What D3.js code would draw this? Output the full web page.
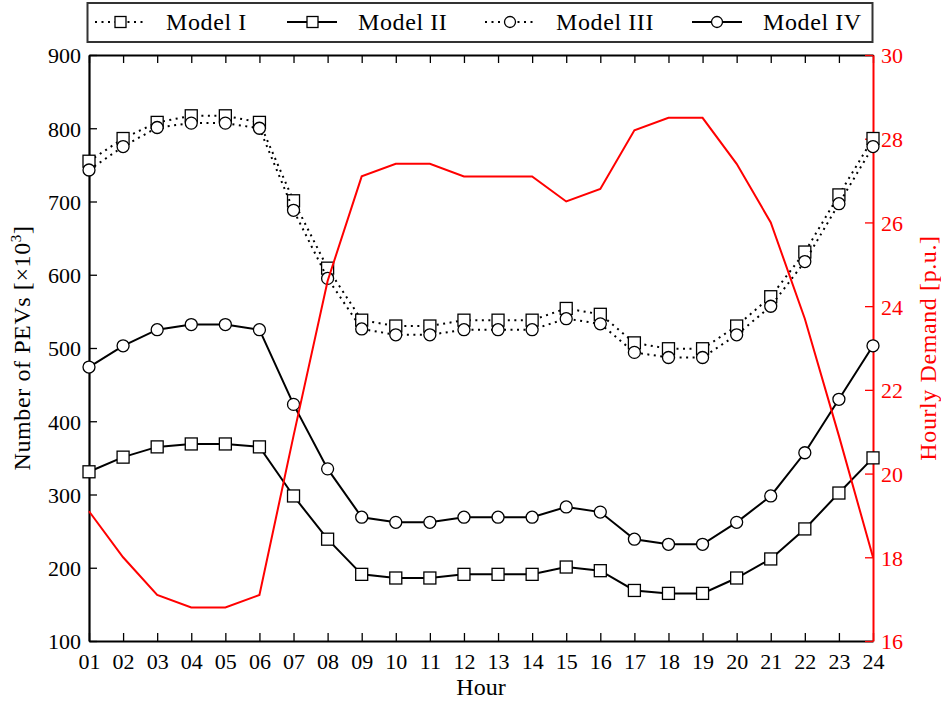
<!DOCTYPE html>
<html>
<head>
<meta charset="utf-8">
<script src="https://cdn.jsdelivr.net/npm/d3@7"></script>
<style>
    body { margin: 0; background: #fff; }
    #chart { width: 941px; height: 702px; }
    svg text { font-family: "Liberation Serif", "DejaVu Serif", serif; }
</style>
</head>
<body>
<div id="chart"></div>
<script>
// hourly PEV numbers for the four models + hourly demand (right axis)

let hours = ["01","02","03","04","05","06","07","08","09","10","11","12",
             "13","14","15","16","17","18","19","20","21","22","23","24"];

let modelI   = [755, 786, 808, 817, 817, 808, 701, 609, 538, 530, 530, 538, 538, 538, 554, 546, 507, 499, 499, 530, 570, 631, 709, 786];
let modelII  = [331, 351, 365, 369, 369, 365, 298, 239, 191, 186, 186, 191, 191, 191, 201, 196, 169, 165, 165, 186, 212, 253, 302, 350];
let modelIII = [743, 775, 801, 807, 807, 800, 688, 595, 526, 518, 518, 525, 525, 525, 540, 533, 494, 487, 487, 518, 557, 618, 697, 775];
let modelIV  = [474, 503, 525, 532, 532, 525, 423, 335, 269, 262, 262, 269, 269, 269, 283, 276, 239, 232, 232, 262, 298, 357, 430, 503];
let demand   = [19.1, 18.0, 17.1, 16.8, 16.8, 17.1, 20.9, 24.6, 27.1, 27.4, 27.4, 27.1, 27.1, 27.1, 26.5, 26.8, 28.2, 28.5, 28.5, 27.4, 26.0, 23.7, 20.9, 18.0];

let leftTicks  = [100, 200, 300, 400, 500, 600, 700, 800, 900];
let rightTicks = [16, 18, 20, 22, 24, 26, 28, 30];

let seriesNames = ["Model I", "Model II", "Model III", "Model IV"];
let seriesData  = [modelI, modelII, modelIII, modelIV];
let seriesMarker = ["square", "square", "circle", "circle"];
let seriesDotted = [true, false, true, false];

const FONT = "'Liberation Serif', 'DejaVu Serif', serif";

class PevChart {

    constructor(parentElement) {
        this.parentElement = parentElement;
        this.initVis();
    }

    initVis() {
        let vis = this;

        vis.margin = {top: 55, right: 68, bottom: 61, left: 89};
        vis.width = 941 - vis.margin.left - vis.margin.right;
        vis.height = 702 - vis.margin.top - vis.margin.bottom;

        vis.root = d3.select("#" + vis.parentElement).append("svg")
            .attr("width", 941)
            .attr("height", 702)
            .attr("font-family", FONT);

        vis.svg = vis.root.append("g")
            .attr("transform", "translate(" + vis.margin.left + "," + vis.margin.top + ")");

        // scales
        vis.x = d3.scalePoint()
            .domain(hours)
            .range([0, vis.width]);

        vis.y = d3.scaleLinear()
            .domain([100, 900])
            .range([vis.height, 0]);

        vis.y2 = d3.scaleLinear()
            .domain([16, 30])
            .range([vis.height, 0]);

        vis.wrangleData();
    }

    wrangleData() {
        let vis = this;

        vis.displayData = seriesNames.map((name, i) => ({
            name: name,
            marker: seriesMarker[i],
            dotted: seriesDotted[i],
            values: seriesData[i].map((v, j) => ({hour: hours[j], value: v}))
        }));

        vis.demandData = demand.map((v, j) => ({hour: hours[j], value: v}));

        vis.updateVis();
    }

    updateVis() {
        let vis = this;
        let fs = 22;   // tick labels
        let ls = 24;   // labels + legend (CM letters run wider)

        // axes, ticks pointing inward
        let xAxis = d3.axisBottom(vis.x).tickSizeInner(-8).tickSizeOuter(0).tickPadding(12);
        let xTop = d3.axisTop(vis.x).tickSizeInner(-8).tickSizeOuter(0).tickFormat("");
        let yAxis = d3.axisLeft(vis.y).tickValues(leftTicks).tickSizeInner(-8).tickSizeOuter(0).tickPadding(8);
        let yAxis2 = d3.axisRight(vis.y2).tickValues(rightTicks).tickSizeInner(-8).tickSizeOuter(0).tickPadding(8);

        let gx = vis.svg.append("g")
            .attr("class", "x-axis axis")
            .attr("transform", "translate(0," + vis.height + ")")
            .call(xAxis);

        let gxTop = vis.svg.append("g")
            .attr("class", "x-top axis")
            .call(xTop);

        let gy = vis.svg.append("g")
            .attr("class", "y-axis axis")
            .call(yAxis);

        let gy2 = vis.svg.append("g")
            .attr("class", "y2-axis axis")
            .attr("transform", "translate(" + vis.width + ",0)")
            .call(yAxis2);

        [gx, gxTop, gy, gy2].forEach(g => g.attr("font-family", FONT).attr("font-size", fs));

        [gx, gxTop, gy].forEach(g => {
            g.selectAll("line").attr("stroke", "#000").attr("stroke-width", 1.3);
            g.select(".domain").attr("stroke", "#000").attr("stroke-width", 2.2);
            g.selectAll("text").attr("fill", "#000");
        });
        gy2.selectAll("line").attr("stroke", "#ff0000").attr("stroke-width", 1.3);
        gy2.select(".domain").attr("stroke", "#ff0000").attr("stroke-width", 2);
        gy2.selectAll("text").attr("fill", "#ff0000");
        gy.selectAll("text").attr("dy", "0.36em");
        gy2.selectAll("text").attr("dy", "0.36em");

        // lines for the models
        let line = d3.line()
            .x(d => vis.x(d.hour))
            .y(d => vis.y(d.value));

        let series = vis.svg.selectAll(".series")
            .data(vis.displayData)
            .enter().append("g")
            .attr("class", "series");

        series.append("path")
            .attr("d", d => line(d.values))
            .attr("fill", "none")
            .attr("stroke", "#000")
            .attr("stroke-width", 2)
            .attr("stroke-dasharray", d => d.dotted ? "2,4.5" : null);

        series.each(function(s) {
            let g = d3.select(this);
            if (s.marker === "square") {
                g.selectAll("rect")
                    .data(s.values)
                    .enter().append("rect")
                    .attr("x", d => vis.x(d.hour) - 6)
                    .attr("y", d => vis.y(d.value) - 6)
                    .attr("width", 12)
                    .attr("height", 12)
                    .attr("fill", "#fff")
                    .attr("stroke", "#000")
                    .attr("stroke-width", 1.3);
            } else {
                g.selectAll("circle")
                    .data(s.values)
                    .enter().append("circle")
                    .attr("cx", d => vis.x(d.hour))
                    .attr("cy", d => vis.y(d.value))
                    .attr("r", 6)
                    .attr("fill", "#fff")
                    .attr("stroke", "#000")
                    .attr("stroke-width", 1.3);
            }
        });

        // hourly demand (red, right axis)
        let demandLine = d3.line()
            .x(d => vis.x(d.hour))
            .y(d => vis.y2(d.value));

        vis.svg.append("path")
            .datum(vis.demandData)
            .attr("d", demandLine)
            .attr("fill", "none")
            .attr("stroke", "#ff0000")
            .attr("stroke-width", 2);

        // axis labels
        vis.svg.append("text")
            .attr("transform", "rotate(-90)")
            .attr("x", -vis.height / 2)
            .attr("y", -vis.margin.left + 30)
            .style("text-anchor", "middle")
            .style("font-size", ls + "px")
            .style("letter-spacing", "0.6px")
            .html("Number of PEVs [×10<tspan dy='-9' style='font-size:15px'>3</tspan><tspan dy='9'>]</tspan>");

        vis.svg.append("text")
            .attr("transform", "rotate(-90)")
            .attr("x", -vis.height / 2)
            .attr("y", vis.width + 63)
            .style("text-anchor", "middle")
            .style("font-size", ls + "px")
            .style("letter-spacing", "0.6px")
            .attr("fill", "#ff0000")
            .text("Hourly Demand [p.u.]");

        vis.svg.append("text")
            .attr("x", vis.width / 2)
            .attr("y", vis.height + 54)
            .style("text-anchor", "middle")
            .style("font-size", ls + "px")
            .text("Hour");

        // legend box above the plot
        let legend = vis.root.append("g").attr("class", "legend");
        legend.append("rect")
            .attr("x", 87.5)
            .attr("y", 3)
            .attr("width", 785)
            .attr("height", 39)
            .attr("fill", "#fff")
            .attr("stroke", "#333")
            .attr("stroke-width", 2);

        let legendX = [95, 287, 485, 692];
        vis.displayData.forEach((s, i) => {
            let lg = legend.append("g").attr("transform", "translate(" + legendX[i] + ",22)");
            lg.append("line")
                .attr("x1", 0).attr("x2", 50)
                .attr("stroke", "#000")
                .attr("stroke-width", 2)
                .attr("stroke-dasharray", s.dotted ? "2,4.5" : null);
            if (s.marker === "square") {
                lg.append("rect")
                    .attr("x", 20).attr("y", -5.5)
                    .attr("width", 11).attr("height", 11)
                    .attr("fill", "#fff").attr("stroke", "#000").attr("stroke-width", 1.3);
            } else {
                lg.append("circle")
                    .attr("cx", 25).attr("r", 5.5)
                    .attr("fill", "#fff").attr("stroke", "#000").attr("stroke-width", 1.3);
            }
            lg.append("text")
                .attr("x", 71)
                .attr("dy", "0.35em")
                .style("font-size", ls + "px")
                .style("letter-spacing", "0.6px")
                .text(s.name);
        });
    }
}

let chart = new PevChart("chart");
</script>
</body>
</html>
